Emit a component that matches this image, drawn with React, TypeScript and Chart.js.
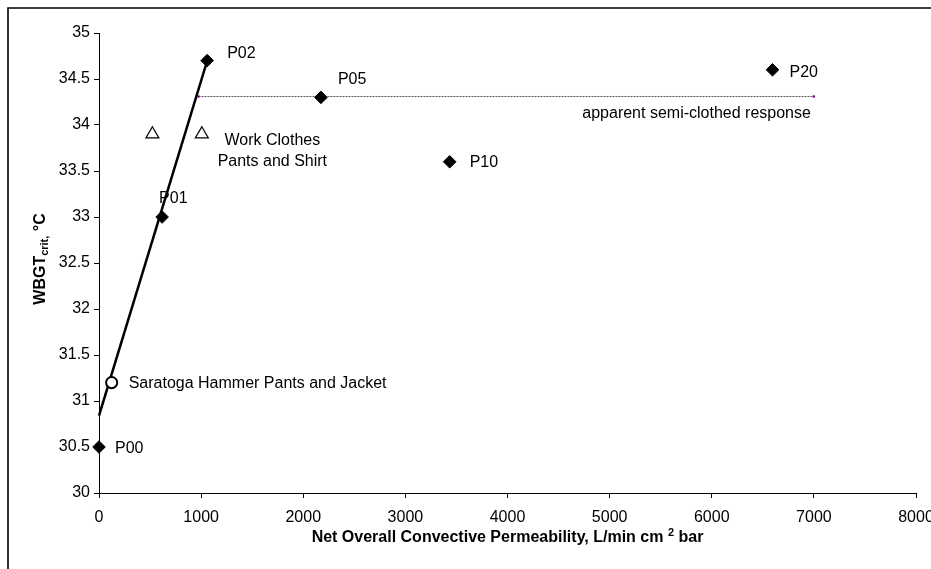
import React, { useEffect, useRef } from 'react';
import { Chart, registerables } from 'chart.js';

Chart.register(...registerables);

// ---- data ----
const pointNames = ['P00', 'P01', 'P02', 'P05', 'P10', 'P20'];
const permeability = [0, 618, 1059, 2173, 3434, 6595];
const wbgtCrit = [30.5, 33.0, 34.7, 34.3, 33.6, 34.6];

const workClothesX = [523, 1007];
const workClothesY = [33.9, 33.9];

const saratogaX = [124];
const saratogaY = [31.2];

const fitLineX = [0, 1060];
const fitLineY = [30.84, 34.7];

const semiClothedX = [974, 7000];
const semiClothedY = [34.31, 34.31];

const xTicks = [0, 1000, 2000, 3000, 4000, 5000, 6000, 7000, 8000];
const yTicks = [30, 30.5, 31, 31.5, 32, 32.5, 33, 33.5, 34, 34.5, 35];

const workClothesLabel = ['Work Clothes', 'Pants and Shirt'];
const saratogaLabel = 'Saratoga Hammer Pants and Jacket';
const semiClothedLabel = 'apparent semi-clothed response';
const xTitleMain = 'Net Overall Convective Permeability, L/min cm';
const xTitleSup = '2';
const xTitleEnd = ' bar';
const yTitleMain = 'WBGT';
const yTitleSub = 'crit,';
const yTitleEnd = ' \u00B0C';

// ---- label placement (pixel offsets from anchors) ----
const nameOffsets: Record<string, [number, number]> = {
  P00: [16, 2],
  P01: [-3, -18.5],
  P02: [20, -7],
  P05: [17, -18],
  P10: [20, 1],
  P20: [17, 2.5],
};

const FONT = '"Liberation Sans", Arial, sans-serif';

const toPts = (xs: number[], ys: number[]) => xs.map((x, i) => ({ x, y: ys[i] }));

const annotationPlugin = {
  id: 'annotations',
  afterDraw(chart: any) {
    const { ctx, scales } = chart;
    const xs = scales.x;
    const ys = scales.y;
    ctx.save();

    // outer frame
    ctx.strokeStyle = '#000';
    ctx.lineWidth = 1.6;
    ctx.beginPath();
    ctx.moveTo(8, 600);
    ctx.lineTo(8, 8);
    ctx.lineTo(940, 8);
    ctx.stroke();

    ctx.fillStyle = '#000';
    ctx.font = `16px ${FONT}`;
    ctx.textBaseline = 'middle';
    ctx.textAlign = 'left';

    pointNames.forEach((n, i) => {
      const px = xs.getPixelForValue(permeability[i]);
      const py = ys.getPixelForValue(wbgtCrit[i]);
      const [dx, dy] = nameOffsets[n];
      ctx.fillText(n, px + dx, py + dy);
    });

    // Saratoga label
    {
      const px = xs.getPixelForValue(saratogaX[0]);
      const py = ys.getPixelForValue(saratogaY[0]);
      ctx.fillText(saratogaLabel, px + 17, py + 1);
    }

    // Work clothes label (two centered lines)
    {
      const px = xs.getPixelForValue(workClothesX[1]);
      const py = ys.getPixelForValue(workClothesY[1]);
      ctx.textAlign = 'center';
      ctx.fillText(workClothesLabel[0], px + 70.5, py + 6.5);
      ctx.fillText(workClothesLabel[1], px + 70.5, py + 27);
    }

    // semi-clothed label
    {
      const px = xs.getPixelForValue(semiClothedX[1]);
      const py = ys.getPixelForValue(semiClothedY[1]);
      ctx.textAlign = 'right';
      ctx.fillText(semiClothedLabel, px - 3, py + 17.5);
    }

    // X axis title
    {
      const cx = (chart.chartArea.left + chart.chartArea.right) / 2;
      const by = 542;
      const fMain = `bold 16px ${FONT}`;
      const fSup = `bold 11px ${FONT}`;
      ctx.textBaseline = 'alphabetic';
      ctx.textAlign = 'left';
      ctx.font = fMain;
      const w1 = ctx.measureText(xTitleMain + ' ').width;
      const w3 = ctx.measureText(xTitleEnd).width;
      ctx.font = fSup;
      const w2 = ctx.measureText(xTitleSup).width;
      let x = cx - (w1 + w2 + w3) / 2;
      ctx.font = fMain;
      ctx.fillText(xTitleMain + ' ', x, by);
      x += w1;
      ctx.font = fSup;
      ctx.fillText(xTitleSup, x, by - 6);
      x += w2;
      ctx.font = fMain;
      ctx.fillText(xTitleEnd, x, by);
    }

    // Y axis title (rotated)
    {
      ctx.translate(39, 259);
      ctx.rotate(-Math.PI / 2);
      const b = 6;
      const fMain = `bold 16px ${FONT}`;
      const fSub = `bold 11px ${FONT}`;
      ctx.textBaseline = 'alphabetic';
      ctx.textAlign = 'left';
      ctx.font = fMain;
      const w1 = ctx.measureText(yTitleMain).width;
      const w3 = ctx.measureText(yTitleEnd).width;
      ctx.font = fSub;
      const w2 = ctx.measureText(yTitleSub).width;
      let x = -(w1 + w2 + w3) / 2;
      ctx.font = fMain;
      ctx.fillText(yTitleMain, x, b);
      x += w1;
      ctx.font = fSub;
      ctx.fillText(yTitleSub, x, b + 3);
      x += w2;
      ctx.font = fMain;
      ctx.fillText(yTitleEnd, x, b);
    }

    ctx.restore();
  },
};

export default function App() {
  const ref = useRef<HTMLCanvasElement | null>(null);

  useEffect(() => {
    if (!ref.current) return;
    const chart = new Chart(ref.current, {
      type: 'scatter',
      data: {
        datasets: [
          {
            label: 'fit',
            data: toPts(fitLineX, fitLineY),
            showLine: true,
            borderColor: '#000',
            borderWidth: 2.5,
            pointRadius: 0,
            clip: false,
            order: 3,
          },
          {
            label: 'semi-clothed',
            data: toPts(semiClothedX, semiClothedY),
            showLine: true,
            borderColor: '#555',
            borderWidth: 1,
            borderDash: [2, 1],
            pointStyle: 'rect',
            pointRadius: 1.6,
            pointBackgroundColor: '#800080',
            pointBorderColor: '#800080',
            pointBorderWidth: 0,
            order: 4,
          },
          {
            label: 'P',
            data: toPts(permeability, wbgtCrit),
            pointStyle: 'rectRot',
            pointRadius: 6.3,
            pointBackgroundColor: '#000',
            pointBorderColor: '#000',
            pointBorderWidth: 1,
            clip: false,
            order: 1,
          },
          {
            label: 'Work clothes',
            data: toPts(workClothesX, workClothesY),
            pointStyle: 'triangle',
            pointRadius: 7.5,
            pointBackgroundColor: '#fff',
            pointBorderColor: '#000',
            pointBorderWidth: 1.2,
            order: 1,
          },
          {
            label: 'Saratoga',
            data: toPts(saratogaX, saratogaY),
            pointStyle: 'circle',
            pointRadius: 5.6,
            pointBackgroundColor: '#fff',
            pointBorderColor: '#000',
            pointBorderWidth: 2,
            order: 0,
          },
        ],
      },
      options: {
        animation: false,
        responsive: false,
        devicePixelRatio: 1,
        layout: { padding: { left: 0, top: 33, right: 15, bottom: 0 } },
        plugins: {
          legend: { display: false },
          tooltip: { enabled: false },
          title: { display: false },
        },
        scales: {
          x: {
            type: 'linear',
            min: 0,
            max: 8000,
            afterBuildTicks: (s: any) => {
              s.ticks = xTicks.map((v) => ({ value: v }));
            },
            afterFit: (s: any) => {
              s.height = 76;
              s.paddingLeft = 0;
              s.paddingRight = 0;
            },
            ticks: {
              color: '#000',
              font: { family: FONT, size: 16 },
              padding: 10,
              maxRotation: 0,
              autoSkip: false,
              callback: (v: any) => String(v),
            },
            grid: {
              drawOnChartArea: false,
              drawTicks: true,
              tickLength: 5,
              color: '#000',
              lineWidth: 1,
            },
            border: { color: '#000', width: 1 },
          },
          y: {
            type: 'linear',
            min: 30,
            max: 35,
            afterBuildTicks: (s: any) => {
              s.ticks = yTicks.map((v) => ({ value: v }));
            },
            afterFit: (s: any) => {
              s.width = 99;
              s.paddingTop = 0;
              s.paddingBottom = 0;
            },
            ticks: {
              color: '#000',
              font: { family: FONT, size: 16 },
              padding: 4,
              autoSkip: false,
              callback: (v: any) => String(v),
            },
            grid: {
              drawOnChartArea: false,
              drawTicks: true,
              tickLength: 5,
              color: '#000',
              lineWidth: 1,
            },
            border: { color: '#000', width: 1 },
          },
        },
      },
      plugins: [annotationPlugin],
    });
    return () => chart.destroy();
  }, []);

  return (
    <div style={{ position: 'absolute', left: 0, top: 0, width: 931, height: 569, background: '#fff' }}>
      <canvas ref={ref} width={931} height={569} style={{ width: 931, height: 569, display: 'block' }} />
    </div>
  );
}
